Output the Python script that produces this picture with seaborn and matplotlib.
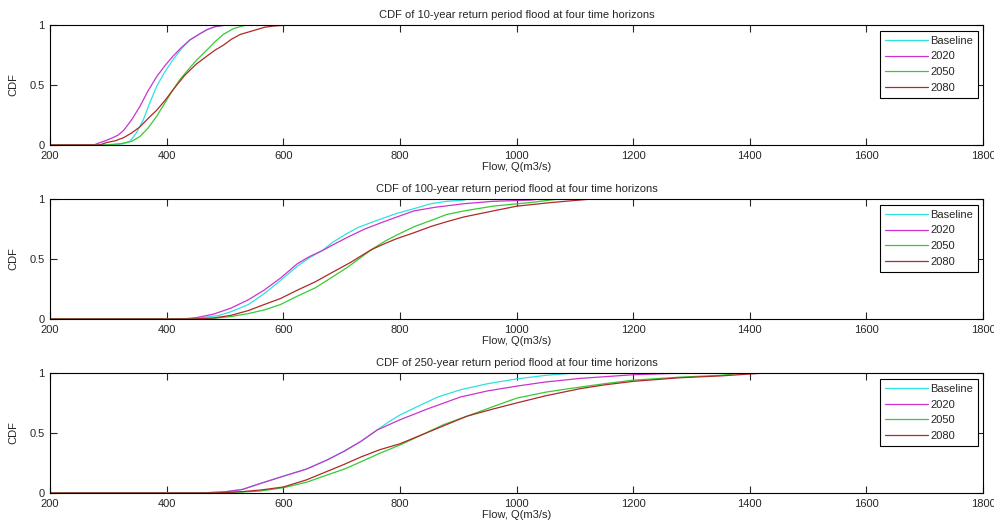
import numpy as np
import pandas as pd
import matplotlib
matplotlib.use("Agg")
import matplotlib.pyplot as plt
import seaborn as sns

# Series names and colours
series = ["Baseline", "2020", "2050", "2080"]
colors = {"Baseline": "#30e0e0", "2020": "#cc33cc", "2050": "#33cc33", "2080": "#b02828"}

# 10-year return period flood
q10_base_x = [200, 305, 326, 337, 348, 360, 371, 383, 397, 411, 425, 440, 455, 469, 483, 497, 514]
q10_base_y = [0, 0, 0.01, 0.03, 0.1, 0.21, 0.35, 0.49, 0.61, 0.71, 0.8, 0.875, 0.92, 0.96, 0.985, 0.995, 1]
q10_2020_x = [200, 275, 286, 295, 305, 316, 326, 340, 354, 368, 383, 397, 411, 425, 440, 455, 469, 483, 497, 514]
q10_2020_y = [0, 0, 0.02, 0.035, 0.055, 0.08, 0.12, 0.21, 0.32, 0.45, 0.57, 0.66, 0.74, 0.81, 0.875, 0.92, 0.96, 0.985, 0.995, 1]
q10_2050_x = [200, 295, 320, 340, 354, 368, 383, 397, 411, 422, 434, 450, 469, 483, 497, 515, 537]
q10_2050_y = [0, 0, 0.01, 0.03, 0.07, 0.14, 0.24, 0.35, 0.46, 0.54, 0.61, 0.7, 0.79, 0.86, 0.92, 0.97, 1]
q10_2080_x = [200, 285, 297, 312, 326, 340, 354, 368, 383, 397, 411, 431, 450, 469, 483, 497, 511, 526, 540, 554, 568, 583, 611]
q10_2080_y = [0, 0, 0.02, 0.035, 0.06, 0.1, 0.15, 0.22, 0.29, 0.37, 0.46, 0.58, 0.67, 0.74, 0.79, 0.83, 0.88, 0.92, 0.94, 0.96, 0.98, 0.99, 1]

# 100-year return period flood
q100_base_x = [200, 430, 460, 490, 510, 540, 567, 595, 624, 645, 667, 685, 705, 727, 760, 795, 825, 853, 880, 910, 915]
q100_base_y = [0, 0, 0.01, 0.03, 0.06, 0.12, 0.21, 0.32, 0.44, 0.51, 0.57, 0.64, 0.7, 0.76, 0.82, 0.88, 0.92, 0.96, 0.98, 0.99, 1]
q100_2020_x = [200, 425, 450, 480, 510, 540, 567, 595, 624, 645, 667, 690, 710, 740, 767, 795, 824, 860, 910, 960, 1024, 1040]
q100_2020_y = [0, 0, 0.01, 0.04, 0.09, 0.16, 0.24, 0.34, 0.46, 0.52, 0.57, 0.63, 0.68, 0.75, 0.8, 0.85, 0.9, 0.93, 0.96, 0.98, 0.99, 1]
q100_2050_x = [200, 450, 480, 510, 540, 567, 595, 624, 655, 681, 710, 738, 755, 775, 795, 825, 853, 880, 910, 960, 1024, 1074]
q100_2050_y = [0, 0, 0.005, 0.02, 0.045, 0.075, 0.12, 0.19, 0.26, 0.34, 0.43, 0.53, 0.59, 0.65, 0.7, 0.77, 0.82, 0.87, 0.9, 0.94, 0.97, 1]
q100_2080_x = [200, 445, 480, 510, 540, 567, 595, 624, 655, 681, 715, 750, 775, 795, 825, 853, 880, 910, 960, 1001, 1060, 1131]
q100_2080_y = [0, 0, 0.008, 0.03, 0.07, 0.12, 0.17, 0.24, 0.31, 0.38, 0.47, 0.575, 0.63, 0.67, 0.72, 0.77, 0.81, 0.85, 0.9, 0.94, 0.97, 1]

# 250-year return period flood
q250_base_x = [200, 455, 500, 530, 561, 600, 640, 675, 705, 733, 761, 780, 800, 830, 865, 904, 950, 1000, 1050, 1100]
q250_base_y = [0, 0, 0.01, 0.03, 0.08, 0.14, 0.2, 0.275, 0.35, 0.43, 0.525, 0.59, 0.65, 0.72, 0.8, 0.86, 0.91, 0.95, 0.98, 1]
q250_2020_x = [200, 455, 500, 530, 561, 600, 640, 675, 705, 733, 761, 800, 847, 904, 950, 1000, 1050, 1110, 1200, 1260, 1318]
q250_2020_y = [0, 0, 0.01, 0.03, 0.08, 0.14, 0.2, 0.275, 0.35, 0.43, 0.525, 0.61, 0.7, 0.8, 0.85, 0.89, 0.925, 0.955, 0.985, 0.995, 1]
q250_2050_x = [200, 485, 530, 561, 600, 640, 675, 705, 733, 765, 800, 840, 875, 915, 960, 1000, 1050, 1091, 1150, 1200, 1280, 1349, 1389]
q250_2050_y = [0, 0, 0.008, 0.017, 0.044, 0.09, 0.15, 0.2, 0.26, 0.33, 0.4, 0.49, 0.57, 0.64, 0.72, 0.79, 0.84, 0.87, 0.91, 0.94, 0.965, 0.98, 1]
q250_2080_x = [200, 480, 530, 561, 600, 640, 675, 705, 733, 765, 800, 840, 875, 915, 960, 1000, 1050, 1110, 1150, 1200, 1280, 1349, 1429]
q250_2080_y = [0, 0, 0.012, 0.025, 0.05, 0.11, 0.18, 0.24, 0.3, 0.36, 0.41, 0.49, 0.56, 0.64, 0.7, 0.75, 0.81, 0.87, 0.9, 0.93, 0.96, 0.975, 1]

titles = ["CDF of 10-year return period flood at four time horizons",
          "CDF of 100-year return period flood at four time horizons",
          "CDF of 250-year return period flood at four time horizons"]
xticks = [200, 400, 600, 800, 1000, 1200, 1400, 1600, 1800]
yticks = [0, 0.5, 1]
ytick_labels = ["0", "0.5", "1"]

panels = [
    [(q10_base_x, q10_base_y), (q10_2020_x, q10_2020_y), (q10_2050_x, q10_2050_y), (q10_2080_x, q10_2080_y)],
    [(q100_base_x, q100_base_y), (q100_2020_x, q100_2020_y), (q100_2050_x, q100_2050_y), (q100_2080_x, q100_2080_y)],
    [(q250_base_x, q250_base_y), (q250_2020_x, q250_2020_y), (q250_2050_x, q250_2050_y), (q250_2080_x, q250_2080_y)],
]

sns.set_style("ticks")
plt.rcParams['font.family'] = ['Liberation Sans', 'DejaVu Sans']
plt.rcParams['font.size'] = 8

fig = plt.figure(figsize=(9.95, 5.29), dpi=100)
bottoms = [0.726, 0.397, 0.068]

for i, data in enumerate(panels):
    ax = fig.add_axes([0.0503, bottoms[i], 0.9377, 0.227])
    frames = []
    for name, (xs, ys) in zip(series, data):
        frames.append(pd.DataFrame({"flow": xs, "cdf": ys, "series": name}))
    df = pd.concat(frames, ignore_index=True)
    sns.lineplot(data=df, x="flow", y="cdf", hue="series", hue_order=series,
                 palette=colors, estimator=None, sort=True, linewidth=0.9, ax=ax)
    ax.set_xlim(200, 1800)
    ax.set_ylim(0, 1)
    ax.set_xticks(xticks)
    ax.set_yticks(yticks)
    ax.set_yticklabels(ytick_labels)
    ax.tick_params(direction="in", top=True, right=True, length=5, width=0.8,
                   labelsize=8)
    ax.tick_params(axis="x", pad=4)
    ax.tick_params(axis="y", pad=4)
    for sp in ax.spines.values():
        sp.set_linewidth(0.8)
        sp.set_color("black")
    ax.set_title(titles[i], fontsize=8, pad=5)
    ax.set_xlabel("Flow, Q(m3/s)", fontsize=8, labelpad=1)
    ax.set_ylabel("CDF", fontsize=8, labelpad=8)
    leg = ax.legend(loc="upper right", bbox_to_anchor=(0.9946, 0.95), fontsize=8,
                    handlelength=3.9, handletextpad=0.2, borderpad=0.45,
                    labelspacing=0.5, borderaxespad=0, fancybox=False, framealpha=1)
    leg.get_frame().set_edgecolor("black")
    leg.get_frame().set_linewidth(0.8)

fig.savefig("out.png", dpi=100)
